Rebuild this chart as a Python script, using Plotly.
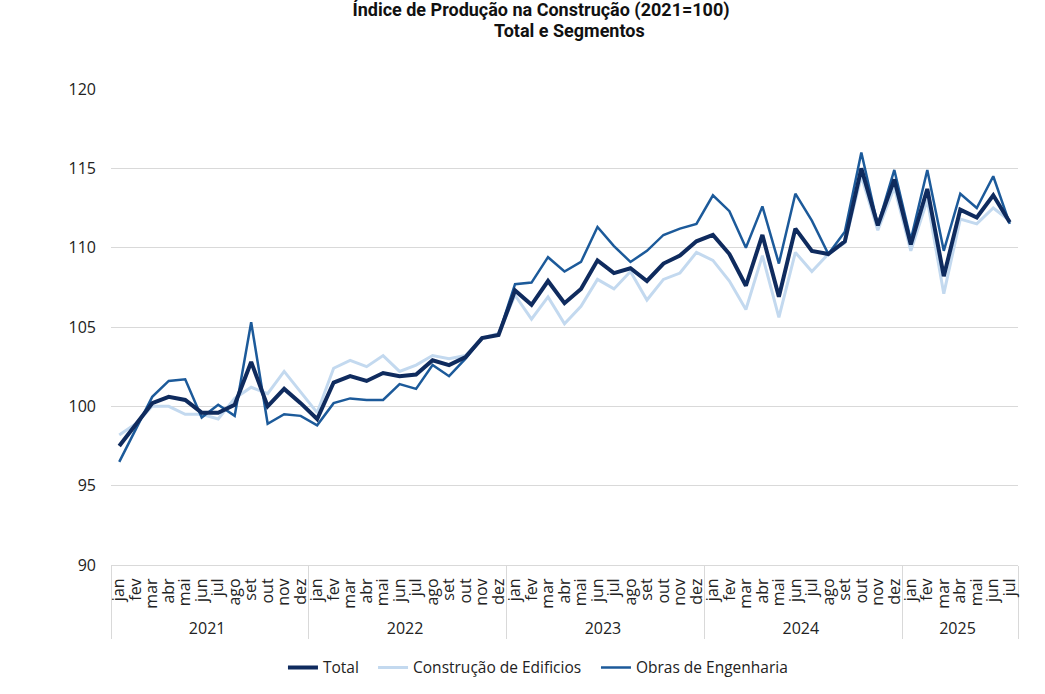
import plotly.graph_objects as go

years = ["2021"] * 12 + ["2022"] * 12 + ["2023"] * 12 + ["2024"] * 12 + ["2025"] * 7
month_names = ["jan", "fev", "mar", "abr", "mai", "jun", "jul", "ago", "set", "out", "nov", "dez"]
months = month_names * 4 + month_names[:7]

total = [97.5, 98.8, 100.2, 100.6, 100.4, 99.6, 99.6, 100.1, 102.8, 100.0, 101.1, 100.2,
         99.2, 101.5, 101.9, 101.6, 102.1, 101.9, 102.0, 102.9, 102.6, 103.1, 104.3, 104.5,
         107.3, 106.4, 107.9, 106.5, 107.4, 109.2, 108.4, 108.7, 107.9, 109.0, 109.5, 110.4,
         110.8, 109.6, 107.6, 110.8, 106.9, 111.2, 109.8, 109.6, 110.4, 115.0, 111.4, 114.3,
         110.2, 113.7, 108.2, 112.4, 111.9, 113.3, 111.6]
edificios = [98.2, 98.9, 100.0, 100.0, 99.5, 99.5, 99.2, 100.5, 101.2, 100.8, 102.2, 100.9,
             99.6, 102.4, 102.9, 102.5, 103.2, 102.2, 102.6, 103.2, 103.0, 103.2, 104.3, 104.6,
             107.0, 105.5, 106.9, 105.2, 106.3, 108.0, 107.4, 108.5, 106.7, 108.0, 108.4, 109.7,
             109.2, 107.9, 106.1, 109.5, 105.6, 109.7, 108.5, 109.6, 110.3, 114.5, 111.1, 113.8,
             109.8, 113.0, 107.1, 111.8, 111.5, 112.5, 111.7]
obras = [96.5, 98.6, 100.6, 101.6, 101.7, 99.3, 100.1, 99.4, 105.3, 98.9, 99.5, 99.4,
         98.8, 100.2, 100.5, 100.4, 100.4, 101.4, 101.1, 102.6, 101.9, 103.0, 104.3, 104.5,
         107.7, 107.8, 109.4, 108.5, 109.1, 111.3, 110.1, 109.1, 109.8, 110.8, 111.2, 111.5,
         113.3, 112.3, 110.0, 112.6, 109.0, 113.4, 111.7, 109.6, 111.0, 116.0, 111.4, 114.9,
         110.5, 114.9, 109.8, 113.4, 112.5, 114.5, 111.5]

x = [years, months]

fig = go.Figure()
fig.add_trace(go.Scatter(x=x, y=edificios, mode="lines", name="Construção de Edificios",
                         line=dict(color="#c3d9ef", width=3), legend="legend2"))
fig.add_trace(go.Scatter(x=x, y=obras, mode="lines", name="Obras de Engenharia",
                         line=dict(color="#1c5a9a", width=2.5), legend="legend3"))
fig.add_trace(go.Scatter(x=x, y=total, mode="lines", name="Total",
                         line=dict(color="#0f2b5e", width=4), legend="legend"))

leg_common = dict(orientation="h", xanchor="left", y=-0.216, yanchor="middle",
                  font=dict(family="Open Sans", size=15.5, color="#222222"),
                  bgcolor="rgba(0,0,0,0)")

fig.update_layout(
    width=1045, height=694,
    margin=dict(l=111, r=27, t=89, b=129, autoexpand=False),
    paper_bgcolor="white", plot_bgcolor="white",
    title=dict(text="<b>Índice de Produção na Construção (2021=100)</b>",
               x=541 / 1045, xanchor="center", yref="container", y=1 - 10 / 694,
               yanchor="middle",
               font=dict(family="Roboto", size=18, color="#111111")),
    annotations=[dict(text="<b>Total e Segmentos</b>", xref="paper", yref="paper",
                      x=(569 - 111) / 907, y=(565 - 31) / 476, xanchor="center",
                      yanchor="middle", showarrow=False,
                      font=dict(family="Roboto", size=18, color="#111111"))],
    font=dict(family="Open Sans", size=15, color="#222222"),
    showlegend=True,
    legend=dict(x=0.1896, **leg_common),
    legend2=dict(x=0.2889, **leg_common),
    legend3=dict(x=0.5347, **leg_common),
)
fig.update_xaxes(type="multicategory", tickangle=-90, showgrid=False, automargin=False,
                 range=[-0.5, len(months) - 0.5],
                 tickmode="linear", tick0=0, dtick=1,
                 showline=True, linecolor="#d9d9d9", linewidth=1,
                 showdividers=True, dividercolor="#d9d9d9", dividerwidth=1,
                 tickfont=dict(family="Open Sans", size=16, color="#222222"),
                 ticks="", ticklabelstandoff=6)
fig.update_yaxes(range=[90, 120], dtick=5, showgrid=True, gridcolor="#d9d9d9", gridwidth=1,
                 zeroline=False, ticks="", automargin=False,
                 tickfont=dict(family="Open Sans", size=16, color="#222222"),
                 ticklabelstandoff=14)

fig.write_html("out.html", config={"displayModeBar": False},
               post_script="document.body.style.margin='0';")
